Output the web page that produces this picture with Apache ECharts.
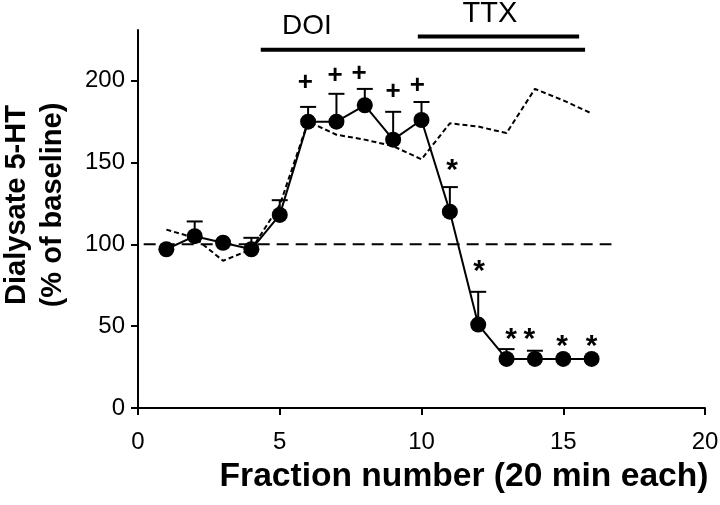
<!DOCTYPE html>
<html>
<head>
<meta charset="utf-8">
<script src="https://cdn.jsdelivr.net/npm/echarts@6/dist/echarts.min.js"></script>
<style>html,body{margin:0;padding:0;background:#fff}#c{width:720px;height:505px}</style>
</head>
<body>
<div id="c"></div>
<script>
// ---- data ----
const fraction = [1, 2, 3, 4, 5, 6, 7, 8, 9, 10, 11, 12, 13, 14, 15, 16];
const dialysate = [97, 105, 101, 97, 118, 175, 175, 185, 164, 176, 120, 51, 30, 30, 30, 30];
const errUpper = [null, 114, null, 104, 127, 184, 192, 195, 181, 187, 135, 71, 36, 35, null, null];
const controlLine = [109, 104, 90, 97, 124, 175, 167, 164, 160, 152, 174, 172, 168, 195, 188, 180];
const baselineX = [0.2, 16.7];
const baselineY = 100;
const doiBarX = [4.33, 15.77];
const doiBarY = 219;
const ttxBarX = [9.87, 15.56];
const ttxBarY = 227;
const plusX = [5.9, 6.95, 7.8, 9.0, 9.85];
const plusY = [199, 203, 204, 193, 197];
const starX = [11.08, 12.03, 13.16, 13.8, 14.96, 16.0];
const starY = [149, 87.5, 46, 46, 41.6, 41.6];
const xTicks = [0, 5, 10, 15, 20];
const yTicks = [0, 50, 100, 150, 200];

const FONT = 'Liberation Sans';
const TICK_FONT = '24px "Liberation Sans", Arial, sans-serif';
const chart = echarts.init(document.getElementById('c'), null, {renderer: 'canvas'});

const errData = [];
fraction.forEach((x, i) => { if (errUpper[i] != null) errData.push([x, dialysate[i], errUpper[i]]); });

const baseGraphic = [
  {type: 'text', x: 307, y: 26, style: {text: 'DOI', font: '28px ' + FONT, fill: '#000', textAlign: 'center', textVerticalAlign: 'middle'}},
  {type: 'text', x: 490, y: 14, style: {text: 'TTX', font: '29px ' + FONT, fill: '#000', textAlign: 'center', textVerticalAlign: 'middle'}},
  {type: 'text', x: 35, y: 205, rotation: Math.PI / 2, style: {text: 'Dialysate 5-HT\n(% of baseline)', font: 'bold 29px ' + FONT, lineHeight: 36, fill: '#000', textAlign: 'center', textVerticalAlign: 'middle'}},
  {type: 'text', x: 464, y: 477, style: {text: 'Fraction number (20 min each)', font: 'bold 33.6px ' + FONT, fill: '#000', textAlign: 'center', textVerticalAlign: 'middle'}}
];

const option = {
  backgroundColor: '#fff',
  animation: false,
  textStyle: {fontFamily: FONT, color: '#000'},
  grid: {left: 138, right: 15, top: 30, bottom: 97, containLabel: false},
  xAxis: {
    type: 'value', min: 0, max: 20, interval: 5,
    axisLine: {lineStyle: {color: '#000', width: 2}},
    axisTick: {show: true, length: 7, lineStyle: {color: '#000', width: 2}},
    axisLabel: {show: false},
    splitLine: {show: false}
  },
  yAxis: {
    type: 'value', min: 0, max: 231,
    axisLine: {show: true, lineStyle: {color: '#000', width: 2}},
    axisTick: {show: true, length: 7, lineStyle: {color: '#000', width: 2}, customValues: yTicks},
    axisLabel: {show: false},
    splitLine: {show: false}
  },
  graphic: baseGraphic,
  series: [
    {
      type: 'line', data: baselineX.map(x => [x, baselineY]), symbol: 'none', silent: true,
      lineStyle: {color: '#000', width: 2, type: [12, 7]}, z: 1
    },
    {
      type: 'line', data: fraction.map((x, i) => [x, controlLine[i]]), symbol: 'none',
      lineStyle: {color: '#000', width: 2, type: [5, 3]}, z: 2
    },
    {
      type: 'custom', z: 3,
      data: errData,
      renderItem: function (params, api) {
        const p0 = api.coord([api.value(0), api.value(1)]);
        const p1 = api.coord([api.value(0), api.value(2)]);
        return {type: 'group', children: [
          {type: 'line', shape: {x1: p0[0], y1: p0[1], x2: p1[0], y2: p1[1]}, style: {stroke: '#000', lineWidth: 2}},
          {type: 'line', shape: {x1: p1[0] - 8, y1: p1[1], x2: p1[0] + 8, y2: p1[1]}, style: {stroke: '#000', lineWidth: 2}}
        ]};
      }
    },
    {
      type: 'line', data: fraction.map((x, i) => [x, dialysate[i]]),
      symbol: 'circle', symbolSize: 16, showAllSymbol: true,
      itemStyle: {color: '#000', borderWidth: 0},
      lineStyle: {color: '#000', width: 2}, z: 4
    },
    {
      type: 'line', data: doiBarX.map(x => [x, doiBarY]), symbol: 'none',
      lineStyle: {color: '#000', width: 4}, z: 5
    },
    {
      type: 'line', data: ttxBarX.map(x => [x, ttxBarY]), symbol: 'none',
      lineStyle: {color: '#000', width: 4}, z: 5
    },
    {
      type: 'scatter', data: plusX.map((x, i) => [x, plusY[i]]), symbolSize: 0, clip: false,
      itemStyle: {opacity: 1, color: '#000'},
      label: {show: true, position: 'inside', formatter: '+', color: '#000', opacity: 1, fontSize: 26, fontWeight: 'bold', fontFamily: FONT}, z: 6
    },
    {
      type: 'scatter', data: starX.map((x, i) => [x, starY[i]]), symbolSize: 0, clip: false,
      itemStyle: {opacity: 1, color: '#000'},
      label: {show: true, position: 'inside', formatter: '*', color: '#000', opacity: 1, fontSize: 30, fontWeight: 'bold', fontFamily: FONT, offset: [0, 7]}, z: 6
    }
  ]
};
chart.setOption(option);

// tick labels placed through the axes' own scales
const tickGraphic = [];
yTicks.forEach(v => {
  const p = chart.convertToPixel({gridIndex: 0}, [0, v]);
  tickGraphic.push({type: 'text', x: p[0] - 13, y: p[1], style: {text: String(v), font: TICK_FONT, fill: '#000', textAlign: 'right', textVerticalAlign: 'middle'}});
});
xTicks.forEach(v => {
  const p = chart.convertToPixel({gridIndex: 0}, [v, 0]);
  tickGraphic.push({type: 'text', x: p[0], y: p[1] + 34, style: {text: String(v), font: TICK_FONT, fill: '#000', textAlign: 'center', textVerticalAlign: 'middle'}});
});
chart.setOption({graphic: baseGraphic.concat(tickGraphic)});
</script>
</body>
</html>
